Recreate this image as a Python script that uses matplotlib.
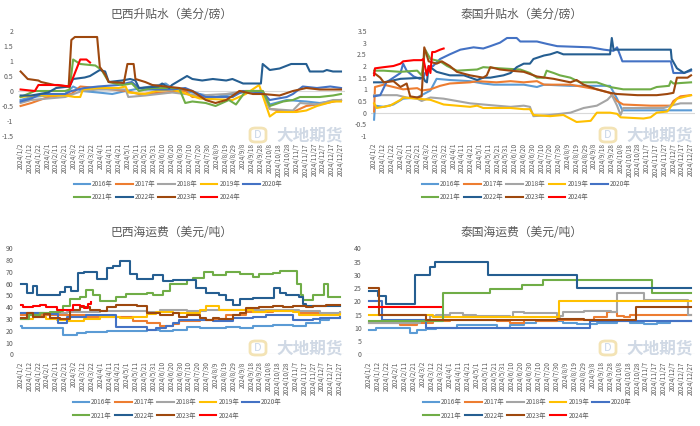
import numpy as np
import pandas as pd
import matplotlib
matplotlib.use('Agg')
import matplotlib.pyplot as plt
from matplotlib.patches import FancyBboxPatch

plt.rcParams['font.family'] = ['Noto Sans CJK SC', 'DejaVu Sans']

years = ['2016年', '2017年', '2018年', '2019年', '2020年', '2021年', '2022年', '2023年', '2024年']
colors = ['#5B9BD5', '#ED7D31', '#A5A5A5', '#FFC000', '#4472C4', '#70AD47', '#255E91', '#9E480E', '#FF0000']

# x = days since 2024/1/2
# ---- 巴西升贴水 (美分/磅)
br_basis = {
    '2016年': ([0, 12, 50, 59, 69, 87, 103, 118, 155, 163, 170, 185, 201, 219, 238, 261, 272, 280, 299, 321, 336, 360],
              [-0.3, -0.2, -0.1, 0.15, 0.0, -0.05, -0.1, 0.0, 0.2, 0.25, 0.1, 0.0, -0.1, -0.2, -0.1, 0.0, 0.0, -0.45, -0.3, -0.35, -0.4, -0.3]),
    '2017年': ([0, 12, 31, 57, 67, 87, 118, 133, 163, 185, 193, 238, 246, 272, 280, 306, 321, 344, 360],
              [-0.5, -0.4, -0.2, -0.1, 0.15, 0.1, 0.0, -0.1, -0.05, 0.0, -0.2, -0.2, 0.0, 0.0, -0.6, -0.7, -0.5, -0.4, -0.3]),
    '2018年': ([0, 12, 50, 69, 87, 118, 121, 140, 170, 185, 201, 231, 253, 272, 280, 306, 314, 333, 351, 360],
              [-0.4, -0.3, -0.2, 0.0, 0.05, 0.05, -0.2, -0.15, -0.05, -0.1, -0.15, -0.1, 0.0, -0.05, -0.6, -0.65, -0.4, -0.45, -0.3, -0.3]),
    '2019年': ([0, 16, 50, 61, 67, 70, 87, 110, 118, 121, 140, 152, 170, 182, 201, 238, 253, 268, 280, 287, 310, 321, 333, 351, 360],
              [-0.2, -0.15, -0.15, -0.2, -0.2, 0.05, 0.1, 0.1, 0.15, -0.05, -0.1, 0.0, 0.05, -0.05, -0.25, -0.3, -0.1, 0.2, -0.85, -0.7, -0.7, -0.65, -0.5, -0.35, -0.35]),
    '2020年': ([0, 12, 23, 50, 57, 72, 87, 110, 125, 133, 140, 170, 185, 193, 208, 238, 250, 272, 280, 299, 306, 317, 333, 348, 360],
              [-0.35, -0.25, -0.1, -0.1, 0.0, 0.1, 0.15, 0.2, 0.3, 0.1, 0.05, 0.05, 0.1, 0.0, -0.2, -0.2, 0.0, -0.05, -0.3, -0.2, -0.1, 0.15, 0.1, 0.15, 0.1]),
    '2021年': ([0, 8, 16, 50, 55, 59, 67, 84, 91, 99, 114, 125, 133, 148, 178, 185, 193, 208, 219, 234, 242, 253, 272, 280, 295, 306, 314, 336, 351, 360],
              [-0.2, -0.1, 0.0, 0.0, 0.05, 1.05, 0.9, 0.85, 0.7, 0.3, 0.2, 0.25, 0.0, 0.1, 0.1, -0.4, -0.35, -0.4, -0.5, -0.3, -0.45, 0.0, 0.0, -0.5, -0.35, -0.3, -0.2, -0.2, -0.15, -0.1]),
    '2022年': ([0, 12, 31, 40, 55, 59, 72, 78, 89, 95, 99, 114, 123, 129, 133, 155, 159, 167, 170, 187, 193, 204, 216, 231, 238, 250, 270, 272, 280, 291, 304, 321, 325, 340, 344, 351, 360],
              [-0.15, -0.15, -0.05, 0.1, 0.15, 0.4, 0.45, 0.5, 0.7, 0.65, 0.3, 0.35, 0.4, 0.35, 0.1, 0.15, 0.25, 0.1, 0.2, 0.5, 0.4, 0.35, 0.4, 0.35, 0.4, 0.25, 0.25, 0.9, 0.7, 0.75, 0.9, 0.9, 0.65, 0.65, 0.7, 0.65, 0.65]),
    '2023年': ([0, 8, 20, 23, 38, 54, 57, 61, 86, 89, 95, 99, 116, 120, 127, 129, 140, 148, 163, 178, 185, 193, 208, 219, 231, 246, 261, 272, 291, 306, 321, 336, 360],
              [0.65, 0.4, 0.35, 0.3, 0.2, 0.15, 1.7, 1.8, 1.8, 0.8, 0.55, 0.3, 0.27, 0.9, 0.9, 0.4, 0.3, 0.2, 0.15, 0.1, 0.05, 0.0, -0.3, -0.4, -0.3, 0.0, -0.1, -0.1, -0.15, 0.0, 0.1, 0.05, 0.05]),
    '2024年': ([0, 16, 20, 42, 55, 67, 74, 78],
              [0.05, 0.0, 0.2, 0.2, 0.15, 1.05, 1.05, 0.95]),
}

# ---- 泰国升贴水 (美分/磅)
th_basis = {
    '2016年': ([0, 1, 11, 22, 33, 49, 64, 71, 86, 109, 124, 136, 170, 185, 193, 223, 268, 276, 282, 360],
              [-0.3, 0.3, 0.25, 0.35, 0.6, 0.65, 0.95, 1.45, 1.4, 1.35, 1.25, 1.2, 1.2, 1.1, 1.2, 1.15, 1.15, 0.6, 0.1, 0.1]),
    '2017年': ([0, 1, 11, 22, 33, 49, 54, 64, 75, 86, 109, 117, 139, 155, 170, 185, 193, 223, 238, 253, 268, 276, 283, 314, 337, 340, 348, 360],
              [0.05, 1.1, 1.2, 1.1, 1.0, 1.05, 0.95, 1.0, 1.15, 1.25, 1.3, 1.35, 1.3, 1.35, 1.3, 1.35, 1.2, 1.2, 1.1, 1.0, 0.85, 0.5, 0.35, 0.3, 0.3, 0.5, 0.7, 0.75]),
    '2018年': ([0, 26, 37, 49, 54, 64, 79, 94, 109, 124, 139, 155, 170, 177, 181, 200, 223, 238, 253, 265, 270, 276, 280, 283, 329, 337, 348, 360],
              [0.75, 0.75, 0.65, 0.6, 0.5, 0.65, 0.6, 0.5, 0.4, 0.35, 0.3, 0.25, 0.3, 0.25, -0.15, -0.1, 0.0, 0.2, 0.3, 0.55, 0.75, 0.3, -0.1, 0.2, 0.2, 0.3, 0.4, 0.4]),
    '2019年': ([0, 3, 18, 30, 33, 49, 64, 79, 94, 109, 117, 124, 155, 170, 177, 181, 200, 215, 230, 246, 253, 268, 276, 280, 306, 314, 321, 333, 340, 344, 360],
              [0.4, 0.2, 0.3, 0.55, 0.65, 0.6, 0.55, 0.35, 0.3, 0.25, 0.3, 0.2, 0.2, 0.15, 0.15, -0.1, -0.15, -0.1, -0.4, -0.35, 0.0, 0.0, -0.05, -0.2, -0.25, -0.2, 0.0, 0.05, 0.4, 0.6, 0.75]),
    '2020年': ([0, 7, 14, 22, 30, 33, 37, 45, 52, 56, 58, 62, 67, 75, 86, 98, 113, 124, 132, 143, 151, 162, 166, 185, 196, 208, 246, 261, 272, 276, 282, 337, 340, 352, 360],
              [0.7, 0.75, 1.3, 1.5, 1.7, 2.1, 1.8, 1.55, 1.45, 1.5, 1.7, 1.9, 2.0, 2.3, 2.5, 2.7, 2.8, 2.75, 2.85, 3.0, 3.2, 3.2, 3.05, 3.05, 2.95, 2.85, 2.8, 2.7, 2.65, 2.8, 2.2, 2.2, 1.7, 1.7, 1.8]),
    '2021年': ([0, 11, 30, 49, 54, 58, 64, 75, 83, 94, 117, 124, 143, 166, 177, 185, 193, 196, 204, 211, 223, 234, 253, 268, 283, 314, 321, 335, 337, 340, 360],
              [1.8, 1.8, 1.75, 1.8, 1.6, 2.7, 2.3, 2.2, 2.0, 1.8, 1.85, 1.95, 1.9, 1.85, 1.7, 1.5, 1.5, 1.8, 1.7, 1.6, 1.5, 1.3, 1.3, 1.1, 1.0, 1.0, 1.1, 1.15, 1.35, 1.25, 1.3]),
    '2022年': ([0, 11, 30, 56, 58, 60, 62, 71, 86, 102, 117, 124, 132, 147, 155, 162, 170, 177, 181, 193, 200, 208, 215, 268, 270, 272, 337, 338, 344, 352, 360],
              [1.3, 1.3, 1.45, 1.5, 1.35, 1.3, 2.0, 1.75, 1.6, 1.6, 1.4, 1.5, 1.5, 1.6, 1.7, 1.95, 2.1, 2.1, 2.3, 2.45, 2.5, 2.6, 2.5, 2.5, 3.2, 2.7, 2.7, 2.3, 1.9, 1.7, 1.85]),
    '2023年': ([0, 7, 11, 22, 30, 37, 41, 49, 54, 57, 62, 71, 77, 86, 94, 109, 124, 128, 132, 143, 155, 170, 185, 204, 223, 230, 238, 253, 268, 276, 299, 321, 333, 340, 344, 356, 360],
              [1.7, 1.5, 1.3, 1.35, 1.1, 1.25, 0.7, 0.65, 0.7, 2.8, 2.2, 2.1, 2.2, 2.0, 1.75, 1.6, 1.5, 1.6, 1.95, 1.85, 1.8, 1.75, 1.55, 1.45, 1.3, 1.4, 1.2, 1.0, 0.85, 0.8, 0.75, 0.75, 0.8, 0.85, 1.5, 1.5, 1.6]),
    '2024年': ([0, 1, 11, 22, 30, 33, 45, 54, 56, 60, 62, 64, 66, 69, 75, 79],
              [1.6, 1.9, 1.95, 2.0, 2.1, 2.2, 2.25, 2.25, 2.3, 1.6, 2.0, 1.7, 2.6, 2.6, 2.7, 2.75]),
}

# ---- 巴西海运费 (美元/吨)
br_freight = {
    '2016年': ([0, 2, 44, 48, 56, 63, 74, 97, 127, 142, 157, 172, 187, 202, 232, 247, 262, 284, 307, 322, 337, 348, 360],
              [24, 22, 22, 16, 16, 18, 19, 20, 20, 21, 20, 21, 23, 22, 23, 22, 24, 25, 24, 27, 29, 31, 31]),
    '2017年': ([0, 52, 74, 119, 127, 142, 157, 172, 179, 202, 217, 232, 254, 284, 314, 337, 360],
              [33, 33, 32, 32, 28, 27, 24, 26, 28, 29, 30, 33, 36, 37, 35, 34, 35]),
    '2018年': ([0, 52, 89, 127, 142, 157, 187, 209, 254, 314, 337, 360],
              [35, 36, 37, 37, 36, 38, 37, 38, 38, 37, 35, 36]),
    '2019年': ([0, 14, 29, 41, 52, 71, 89, 112, 127, 142, 153, 172, 202, 209, 224, 247, 262, 277, 307, 314, 352, 360],
              [30, 32, 30, 29, 28, 30, 32, 31, 32, 34, 36, 35, 38, 41, 38, 38, 36, 37, 36, 33, 33, 34]),
    '2020年': ([0, 26, 42, 52, 74, 104, 108, 127, 142, 153, 164, 172, 179, 202, 217, 239, 262, 277, 299, 307, 329, 337, 360],
              [35, 34, 27, 32, 33, 33, 23, 23, 21, 22, 24, 27, 29, 29, 28, 31, 32, 33, 33, 29, 30, 31, 32]),
    '2021年': ([0, 10, 22, 33, 44, 48, 56, 67, 74, 82, 89, 101, 108, 119, 142, 149, 161, 168, 187, 194, 207, 217, 232, 247, 262, 269, 284, 292, 307, 312, 316, 318, 329, 342, 346, 360],
              [30, 33, 35, 36, 37, 41, 47, 49, 55, 50, 45, 45, 49, 51, 52, 50, 54, 60, 63, 65, 70, 67, 70, 68, 66, 68, 69, 71, 71, 60, 50, 46, 50, 60, 49, 49]),
    '2022年': ([0, 7, 14, 18, 42, 44, 50, 57, 65, 71, 86, 97, 104, 112, 123, 131, 149, 161, 172, 191, 198, 209, 224, 232, 239, 247, 262, 284, 286, 292, 299, 314, 318, 322, 360],
              [60, 52, 58, 50, 50, 53, 57, 54, 69, 70, 64, 73, 75, 79, 68, 64, 67, 62, 63, 63, 56, 52, 50, 46, 42, 47, 48, 48, 56, 52, 50, 49, 43, 41, 41]),
    '2023年': ([0, 7, 14, 26, 33, 44, 56, 67, 78, 89, 97, 108, 123, 131, 142, 157, 172, 179, 187, 202, 209, 217, 224, 239, 247, 254, 269, 284, 296, 307, 322, 329, 344, 360],
              [31, 35, 32, 34, 31, 30, 38, 40, 38, 37, 40, 42, 42, 41, 35, 33, 35, 32, 33, 31, 29, 31, 30, 33, 35, 39, 40, 41, 40, 41, 40, 41, 42, 42]),
    '2024年': ([0, 3, 14, 22, 29, 41, 52, 59, 67, 72, 76, 79],
              [42, 40, 41, 42, 40, 38, 38, 42, 41, 39, 43, 44]),
}

# ---- 泰国海运费 (美元/吨)
th_freight = {
    '2016年': ([0, 8, 44, 46, 53, 64, 75, 98, 128, 143, 158, 173, 187, 217, 232, 255, 277, 292, 307, 322, 337, 360],
              [9, 10, 10, 8, 9, 9.5, 10, 11, 11, 10, 11, 12, 12.5, 12, 11.5, 12, 12.5, 12, 11.5, 12, 12.5, 12.5]),
    '2017年': ([0, 23, 34, 46, 53, 72, 90, 128, 143, 158, 173, 187, 210, 240, 251, 266, 277, 285, 292, 360],
              [12, 12, 11, 11, 12, 12.5, 13, 13, 12.5, 12, 13, 12.5, 13, 13, 14, 16, 14.5, 14, 15, 15]),
    '2018年': ([0, 46, 57, 68, 75, 90, 105, 120, 158, 161, 173, 202, 210, 214, 217, 240, 270, 277, 303, 307, 352, 357, 360],
              [12, 12, 13, 14.5, 15, 15.5, 15, 14.5, 14, 16, 15.5, 15.5, 14, 14.5, 16, 16.5, 16, 23, 23, 20.5, 20.5, 15, 15]),
    '2019年': ([0, 62, 72, 210, 212, 360],
              [15, 15, 14, 14, 20, 20]),
    '2020年': ([0, 10, 14, 62, 64, 243, 247, 360],
              [20, 20, 13, 13, 10, 10, 12.5, 12.5]),
    '2021年': ([0, 81, 83, 131, 135, 169, 171, 193, 195, 311, 316, 360],
              [12.5, 12.5, 23, 23, 24.5, 24.5, 26, 26, 28, 28, 23, 23]),
    '2022年': ([0, 10, 19, 49, 51, 64, 68, 74, 131, 133, 229, 232, 360],
              [24, 22, 19, 19, 30, 30, 33, 35, 35, 30, 30, 25, 25]),
    '2023年': ([0, 9, 11, 62, 64, 195, 210, 240, 296, 299, 360],
              [25, 25, 15, 15, 13, 13, 13.5, 13, 13, 18, 18]),
    '2024年': ([0, 80],
              [18, 18]),
}

tick_days = np.arange(0, 361, 10)
tick_dates = pd.Timestamp('2024-01-02') + pd.to_timedelta(tick_days, unit='D')
tick_labels = [f'{d.year}/{d.month}/{d.day}' for d in tick_dates]

W, H = 700, 426
fig = plt.figure(figsize=(7, 4.26), dpi=100)
txt = '#595959'


def panel(rect, title, tpos, data, ylim, ystep, legpos, wm, step=False):
    l, t, r, b = rect
    ax = fig.add_axes([l / W, 1 - b / H, (r - l) / W, (b - t) / H])
    for yr, c in zip(years, colors):
        x, y = data[yr]
        ax.plot(x, y, color=c, lw=1.5, label=yr,
                drawstyle='steps-post' if step else 'default')
    ax.axhline(0, color='#d9d9d9', lw=0.8, zorder=0)
    ax.set_xlim(-3.5, 364.5)
    ax.set_ylim(*ylim)
    ax.set_yticks(np.arange(ylim[0], ylim[1] + ystep / 2, ystep))
    ax.yaxis.set_major_formatter(plt.FuncFormatter(lambda v, p: f'{v:g}'))
    ax.set_xticks(tick_days)
    ax.set_xticklabels(tick_labels, rotation=90)
    ax.tick_params(axis='y', length=0, labelsize=5, labelcolor=txt, pad=3)
    ax.tick_params(axis='x', length=0, labelsize=4.6, labelcolor=txt, pad=5)
    for s in ax.spines.values():
        s.set_visible(False)
    fig.text(tpos[0] / W, 1 - tpos[1] / H, title, ha='center', va='center',
             fontsize=8.5, color=txt)
    # watermark: logo box + company name
    logo = FancyBboxPatch(((wm[0] - 60) / W, 1 - (wm[1] + 7) / H), 16 / W, 14 / H,
                          boxstyle='round,pad=0,rounding_size=0.008',
                          transform=fig.transFigure, facecolor='none',
                          edgecolor='#f3e3b5', lw=2, zorder=0)
    fig.patches.append(logo)
    fig.text((wm[0] - 52) / W, 1 - wm[1] / H, 'D', ha='center', va='center',
             fontsize=8, color='#c9d6e8', zorder=0)
    fig.text(wm[0] / W, 1 - wm[1] / H, '大地期货', ha='center', va='center',
             fontsize=12, color='#d0d9e5', fontweight='bold', zorder=0)
    h, lab = ax.get_legend_handles_labels()
    order = [0, 5, 1, 6, 2, 7, 3, 8, 4]
    fig.legend([h[i] for i in order], [lab[i] for i in order], loc='center',
               bbox_to_anchor=(legpos[0] / W, 1 - legpos[1] / H), ncol=5,
               frameon=False, fontsize=4.6, labelcolor=txt, handlelength=2.6,
               handletextpad=0.3, columnspacing=0.5, labelspacing=0.8)
    return ax


panel((17.5, 31, 345, 136), '巴西升贴水（美分/磅）', (172, 14), br_basis,
      (-1.5, 2), 0.5, (178, 190.5), (310, 135))
panel((371, 31, 695, 136), '泰国升贴水（美分/磅）', (522, 14), th_basis,
      (-1, 3.5), 0.5, (526, 190.5), (660, 135))
panel((17.5, 248.3, 344, 354.3), '巴西海运费（美元/吨）', (172, 232), br_freight,
      (0, 90), 10, (177, 409), (310, 348), step=True)
panel((366, 248.3, 695, 354.3), '泰国海运费（美元/吨）', (522, 232), th_freight,
      (0, 40), 5, (527, 409), (660, 348), step=True)

fig.savefig('out.png', dpi=100)
